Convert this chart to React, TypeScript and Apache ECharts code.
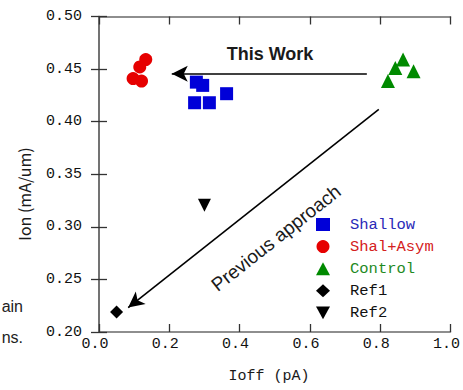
import React, { useEffect, useRef } from "react";
import * as echarts from "echarts";

const seriesNames = ["Shallow", "Shal+Asym", "Control", "Ref1", "Ref2"];
const seriesColors = ["#0000d8", "#e60000", "#008a00", "#000000", "#000000"];
const legendTextColors = ["#2a2ab8", "#d42020", "#1f8a1f", "#111111", "#111111"];
const seriesSymbols = ["rect", "circle", "triangle", "diamond", "triangle"];
const seriesRotations = [0, 0, 0, 0, 180];
const downTriangleIcon = "path://M0,0L20,0L10,18Z";

const shallow = [
  [0.277, 0.4376],
  [0.295, 0.4345],
  [0.272, 0.418],
  [0.314, 0.418],
  [0.363, 0.4266],
];
const shalAsym = [
  [0.133, 0.459],
  [0.116, 0.452],
  [0.097, 0.441],
  [0.121, 0.4386],
];
const control = [
  [0.865, 0.459],
  [0.843, 0.451],
  [0.895, 0.448],
  [0.822, 0.4386],
];
const ref1 = [[0.05, 0.219]];
const ref2 = [[0.3, 0.3205]];

const thisWorkArrow = [
  [0.762, 0.4456],
  [0.207, 0.4456],
];
const previousArrow = [
  [0.796, 0.4117],
  [0.083, 0.2232],
];

const xMin = 0;
const xMax = 1;
const xStep = 0.2;
const yMin = 0.2;
const yMax = 0.5;
const yStep = 0.05;

const xTitle = "Ioff (pA)";
const yTitle = "Ion (mA/um)";

const mono = "'Liberation Mono', 'DejaVu Sans Mono', monospace";

export default function App() {
  const ref = useRef<HTMLDivElement>(null);
  useEffect(() => {
    if (!ref.current) return;
    const chart = echarts.init(ref.current, null, { renderer: "svg" });
    const allData = [shallow, shalAsym, control, ref1, ref2];
    const series: any[] = allData.map((d, i) => ({
      name: seriesNames[i],
      type: "scatter",
      data: d,
      symbol: seriesSymbols[i],
      symbolSize: i === 2 ? 14 : 13,
      symbolRotate: seriesRotations[i],
      itemStyle: { color: seriesColors[i], opacity: 1 },
      xAxisIndex: 0,
      yAxisIndex: 0,
    }));
    const arrowLine = {
      silent: true,
      symbol: ["none", "arrow"],
      symbolSize: [12, 16],
      label: { show: false },
      lineStyle: { color: "#000", width: 1.6, type: "solid" },
      emphasis: { disabled: true },
      data: [
        [{ coord: thisWorkArrow[0] }, { coord: thisWorkArrow[1] }],
        [{ coord: previousArrow[0] }, { coord: previousArrow[1] }],
      ],
    };
    series.push({
      name: "arrows",
      type: "scatter",
      data: [],
      markLine: arrowLine,
    });
    const axisLine = { show: true, lineStyle: { color: "#6a6a6a", width: 1.5 } };
    const tick = { show: true, inside: true, length: 8, lineStyle: { color: "#333", width: 1.3 } };
    chart.setOption({
      animation: false,
      backgroundColor: "#fff",
      grid: { left: 99, right: 11, top: 16.5, bottom: 58 },
      xAxis: [
        {
          type: "value",
          min: xMin,
          max: xMax,
          interval: xStep,
          position: "bottom",
          axisLine,
          axisTick: tick,
          splitLine: { show: false },
          axisLabel: {
            margin: 5,
            color: "#111",
            fontFamily: mono,
            fontSize: 15,
            padding: [0, 8, 0, 0],
            formatter: (v: number) => v.toFixed(1),
          },
        },
        {
          type: "value",
          min: xMin,
          max: xMax,
          interval: xStep,
          position: "top",
          axisLine,
          axisTick: tick,
          splitLine: { show: false },
          axisLabel: { show: false },
        },
      ],
      yAxis: [
        {
          type: "value",
          min: yMin,
          max: yMax,
          interval: yStep,
          position: "left",
          axisLine,
          axisTick: tick,
          splitLine: { show: false },
          axisLabel: {
            margin: 17,
            color: "#111",
            fontFamily: mono,
            fontSize: 15,
            formatter: (v: number) => v.toFixed(2),
          },
        },
        {
          type: "value",
          min: yMin,
          max: yMax,
          interval: yStep,
          position: "right",
          axisLine,
          axisTick: tick,
          splitLine: { show: false },
          axisLabel: { show: false },
        },
      ],
      legend: {
        orient: "vertical",
        left: 316,
        top: 216.5,
        padding: 0,
        itemWidth: 14,
        itemHeight: 13,
        itemGap: 6.1,
        selectedMode: false,
        textStyle: { fontFamily: mono, fontSize: 15.5, lineHeight: 16, padding: [0, 0, 0, 15] },
        data: seriesNames.map((n, i) => {
          const item: any = { name: n, textStyle: { color: legendTextColors[i] } };
          if (i === 4) item.icon = downTriangleIcon;
          return item;
        }),
      },
      graphic: [
        {
          type: "text",
          x: 270,
          y: 53.5,
          style: {
            text: "This Work",
            font: "bold 18px 'Liberation Sans', Arial, sans-serif",
            fill: "#1a1a1a",
            textAlign: "center",
            textVerticalAlign: "middle",
          },
        },
        {
          type: "text",
          x: 276,
          y: 238,
          rotation: (38.3 * Math.PI) / 180,
          style: {
            text: "Previous approach",
            font: "19px 'Liberation Sans', Arial, sans-serif",
            fill: "#1a1a1a",
            textAlign: "center",
            textVerticalAlign: "middle",
          },
        },
        {
          type: "text",
          x: 24,
          y: 194,
          rotation: Math.PI / 2,
          style: {
            text: yTitle,
            font: "16px 'Noto Sans CJK JP', 'Noto Sans', sans-serif",
            fill: "#1a1a1a",
            textAlign: "center",
            textVerticalAlign: "middle",
          },
        },
        {
          type: "text",
          x: 269,
          y: 376,
          style: {
            text: xTitle,
            font: "15px " + mono,
            fill: "#1a1a1a",
            textAlign: "center",
            textVerticalAlign: "middle",
          },
        },
        {
          type: "text",
          x: 23,
          y: 306,
          style: {
            text: "ain",
            font: "16px 'Liberation Sans', Arial, sans-serif",
            fill: "#222",
            textAlign: "right",
            textVerticalAlign: "middle",
          },
        },
        {
          type: "text",
          x: 23,
          y: 337,
          style: {
            text: "ns.",
            font: "16px 'Liberation Sans', Arial, sans-serif",
            fill: "#222",
            textAlign: "right",
            textVerticalAlign: "middle",
          },
        },
      ],
      series,
    });
    return () => chart.dispose();
  }, []);
  return <div ref={ref} style={{ width: 463, height: 390, position: "absolute", left: 0, top: 0 }} />;
}
